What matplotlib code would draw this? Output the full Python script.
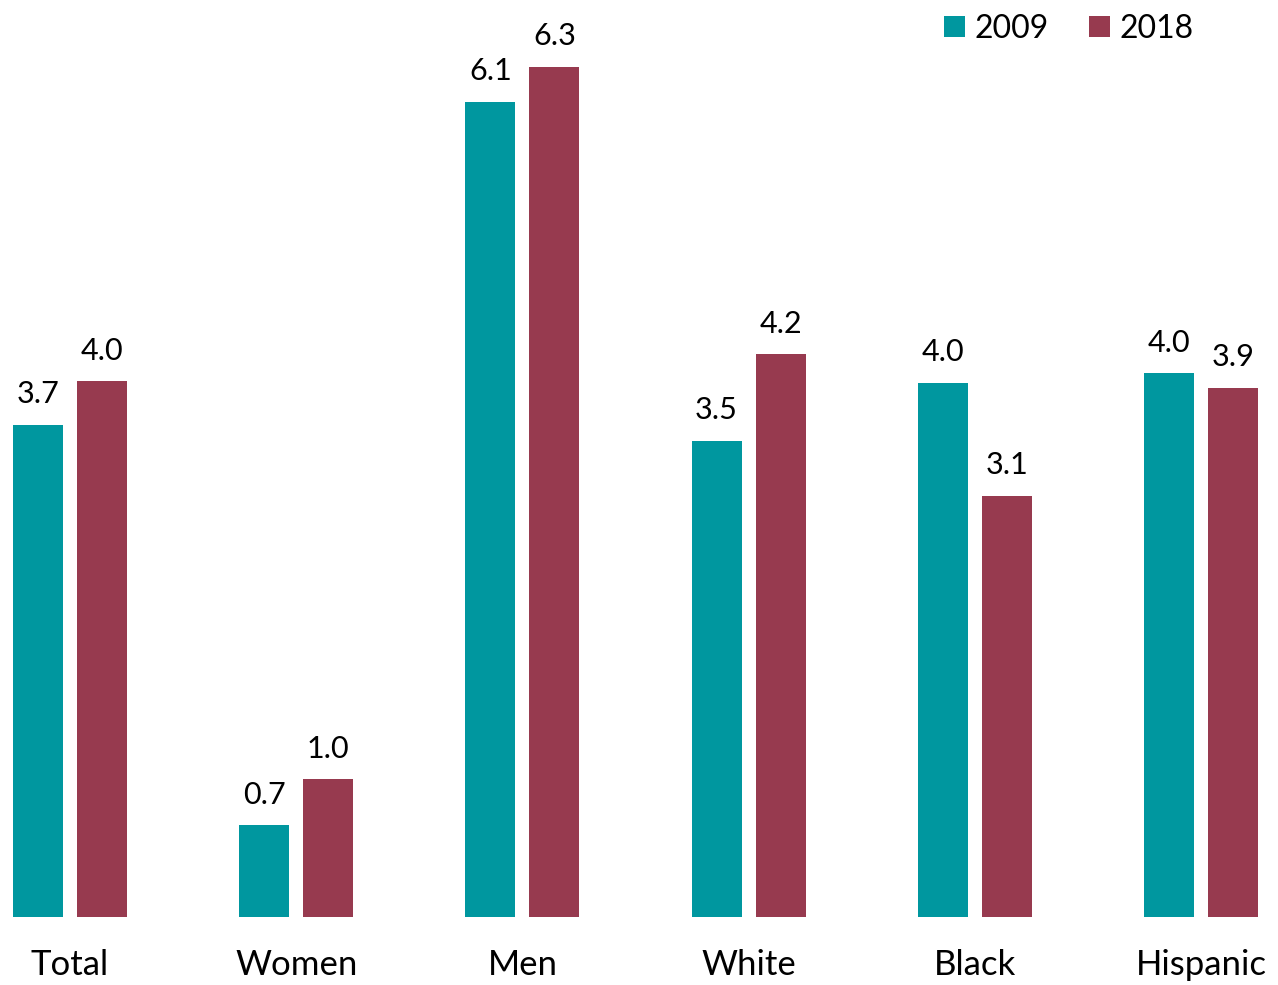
import matplotlib
matplotlib.use("Agg")
import matplotlib.pyplot as plt
import numpy as np

plt.rcParams['font.family'] = ['Lato', 'DejaVu Sans']

categories = ['Total', 'Women', 'Men', 'White', 'Black', 'Hispanic']
years = ['2009', '2018']
vals_2009 = [3.65, 0.68, 6.04, 3.53, 3.96, 4.03]
vals_2018 = [3.97, 1.02, 6.30, 4.17, 3.12, 3.92]
labels_2009 = ['3.7', '0.7', '6.1', '3.5', '4.0', '4.0']
labels_2018 = ['4.0', '1.0', '6.3', '4.2', '3.1', '3.9']
colors = ['#00979F', '#973A4F']

fig = plt.figure(figsize=(12.78, 9.85), dpi=100)
ax = fig.add_axes([13 / 1278, 68 / 985, 1245 / 1278, 877 / 985])

x = np.arange(len(categories))
w = 0.221
off = 0.1416
b1 = ax.bar(x - off, vals_2009, w, color=colors[0], label=years[0])
b2 = ax.bar(x + off, vals_2018, w, color=colors[1], label=years[1])

for bars, labs in [(b1, labels_2009), (b2, labels_2018)]:
    for rect, lab in zip(bars, labs):
        ax.annotate(lab, (rect.get_x() + rect.get_width() / 2, rect.get_height()),
                    xytext=(0, 12), textcoords='offset points',
                    ha='center', va='bottom', fontsize=22, annotation_clip=False)

ax.set_xlim(-0.252, 5.252)
ax.set_ylim(0, 6.5)
ax.set_xticks(x)
ax.set_xticklabels(categories, fontsize=25)
ax.tick_params(axis='x', length=0, pad=23)
ax.set_yticks([])
for s in ax.spines.values():
    s.set_visible(False)

leg = fig.legend(loc='upper right', bbox_to_anchor=(1222 / 1278, 1.015), ncol=2,
                 frameon=False, fontsize=23, handlelength=0.65, handleheight=0.65,
                 handletextpad=0.3, columnspacing=1.25)

fig.savefig('out.png', dpi=100)
